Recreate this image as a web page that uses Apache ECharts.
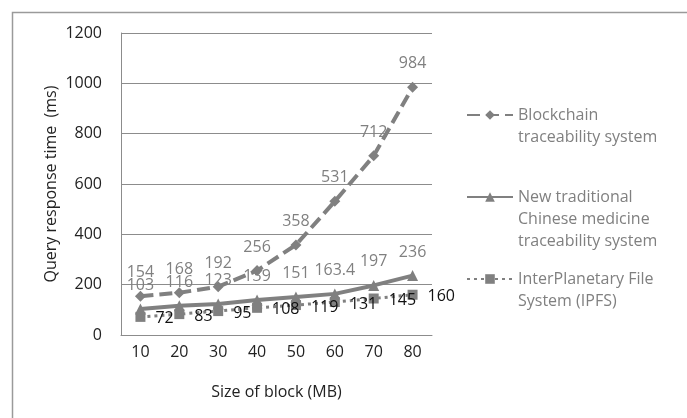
<!DOCTYPE html>
<html>
<head>
<meta charset="utf-8">
<script src="https://cdn.jsdelivr.net/npm/echarts@6/dist/echarts.min.js"></script>
<style>html,body{margin:0;padding:0;background:#fff;}#c{width:687px;height:418px;}</style>
</head>
<body>
<div id="c"></div>
<script>
var categories = ['10', '20', '30', '40', '50', '60', '70', '80'];
var blockchain = [154, 168, 192, 256, 358, 531, 712, 984];
var tcm = [103, 116, 123, 139, 151, 163.4, 197, 236];
var ipfs = [72, 83, 95, 108, 119, 131, 145, 160];
var seriesNames = ['Blockchain\ntraceability system', 'New traditional\nChinese medicine\ntraceability system', 'InterPlanetary File\nSystem (IPFS)'];
var yTicks = {min: 0, max: 1200, interval: 200};
var xAxisName = 'Size of block (MB)';
var yAxisName = 'Query response time  (ms)';

var FONT = 'Open Sans';
var GRAY = '#808080';
var chart = echarts.init(document.getElementById('c'), null, {renderer: 'canvas'});

function legendFor(name, top) {
  var lines = name.split('\n').length;
  var pre = new Array(lines).join('\n');
  return {
    data: [name],
    formatter: function (n) { return pre + n; },
    orient: 'vertical', left: 466, top: top, padding: 0,
    itemWidth: 46, itemHeight: 12,
    textStyle: {fontFamily: FONT, fontSize: 16, lineHeight: 22, color: GRAY}
  };
}

chart.setOption({
  animation: false,
  backgroundColor: '#fff',
  textStyle: {fontFamily: FONT},
  graphic: [{type: 'rect', shape: {x: 12.5, y: 12.5, width: 720, height: 440},
             style: {fill: 'none', stroke: '#9a9a9a', lineWidth: 1.5}, silent: true}],
  grid: {left: 121, top: 33, right: 255, bottom: 83},
  legend: [
    legendFor(seriesNames[0], 82),
    legendFor(seriesNames[1], 142),
    legendFor(seriesNames[2], 246)
  ],
  xAxis: {
    type: 'category', data: categories, boundaryGap: true,
    name: xAxisName, nameLocation: 'middle', nameGap: 49,
    nameTextStyle: {fontFamily: FONT, fontSize: 16, color: '#222'},
    axisLine: {show: true, lineStyle: {color: '#8c8c8c', width: 1}},
    axisTick: {show: false},
    axisLabel: {fontFamily: FONT, fontSize: 16, color: '#222', margin: 9}
  },
  yAxis: {
    type: 'value', min: yTicks.min, max: yTicks.max, interval: yTicks.interval,
    name: yAxisName, nameLocation: 'middle', nameGap: 62,
    nameTextStyle: {fontFamily: FONT, fontSize: 16, color: '#222'},
    axisLine: {show: true, lineStyle: {color: '#8c8c8c', width: 1}},
    axisTick: {show: false},
    splitLine: {lineStyle: {color: '#8c8c8c', width: 1}},
    axisLabel: {fontFamily: FONT, fontSize: 16, color: '#222', margin: 19,
                formatter: function (v) { return String(v); }}
  },
  series: [
    {
      name: seriesNames[0], type: 'line', data: blockchain,
      symbol: 'diamond', symbolSize: 11, showAllSymbol: true,
      lineStyle: {color: GRAY, width: 4, type: [13, 6]},
      itemStyle: {color: GRAY},
      label: {show: true, position: 'top', distance: 10, fontFamily: FONT, fontSize: 16, lineHeight: 16, color: GRAY}
    },
    {
      name: seriesNames[1], type: 'line', data: tcm,
      symbol: 'triangle', symbolSize: 11,
      lineStyle: {color: GRAY, width: 4, type: 'solid'},
      itemStyle: {color: GRAY},
      label: {show: true, position: 'top', distance: 10, fontFamily: FONT, fontSize: 16, lineHeight: 16, color: GRAY}
    },
    {
      name: seriesNames[2], type: 'line', data: ipfs,
      symbol: 'rect', symbolSize: 10,
      lineStyle: {color: GRAY, width: 3, type: [3, 4]},
      itemStyle: {color: GRAY},
      label: {show: true, position: 'right', distance: 10, offset: [0, 2], fontFamily: FONT, fontSize: 16, lineHeight: 16, color: '#111'}
    }
  ]
});
</script>
</body>
</html>
